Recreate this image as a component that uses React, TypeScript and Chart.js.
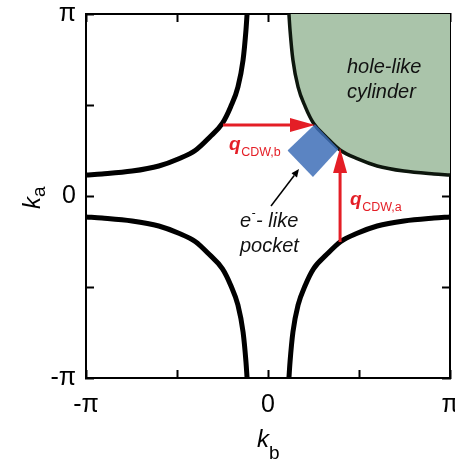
import React, { useEffect, useRef } from 'react';
import { Chart, registerables } from 'chart.js';

Chart.register(...registerables);

// Axis range in units of pi
const AXIS_MIN = -1;
const AXIS_MAX = 1;
const TICK_STEP = 0.5;
const TICK_VALUES = [-1, 0, 1];
const TICK_TEXT = ['-π', '0', 'π'];

// Fermi-surface contours (units of pi)
const trX = [0.115, 0.121, 0.137, 0.165, 0.205, 0.25, 0.322, 0.40, 0.49, 0.60, 0.747, 0.912, 1.0];
const trY = [1.0, 0.912, 0.747, 0.60, 0.49, 0.40, 0.322, 0.25, 0.205, 0.165, 0.137, 0.121, 0.115];
const tlX = [-1.0, -0.912, -0.747, -0.60, -0.49, -0.40, -0.322, -0.25, -0.205, -0.165, -0.137, -0.121, -0.115];
const tlY = [0.115, 0.121, 0.137, 0.165, 0.205, 0.25, 0.322, 0.40, 0.49, 0.60, 0.747, 0.912, 1.0];
const blX = [-1.0, -0.912, -0.747, -0.60, -0.49, -0.40, -0.322, -0.25, -0.205, -0.165, -0.137, -0.121, -0.115];
const blY = [-0.115, -0.121, -0.137, -0.165, -0.205, -0.25, -0.322, -0.40, -0.49, -0.60, -0.747, -0.912, -1.0];
const brX = [0.115, 0.121, 0.137, 0.165, 0.205, 0.25, 0.322, 0.40, 0.49, 0.60, 0.747, 0.912, 1.0];
const brY = [-1.0, -0.912, -0.747, -0.60, -0.49, -0.40, -0.322, -0.25, -0.205, -0.165, -0.137, -0.121, -0.115];

// electron-like pocket (diamond), upper and lower outline
const pocketUpperX = [0.107, 0.258, 0.388];
const pocketUpperY = [0.25, 0.394, 0.258];
const pocketLowerX = [0.107, 0.247, 0.388];
const pocketLowerY = [0.25, 0.104, 0.258];

// q_CDW,b arrow (horizontal)
const qbShaftX = [-0.247, 0.14];
const qbShaftY = [0.39, 0.39];
const qbHeadUpperX = [0.121, 0.258];
const qbHeadUpperY = [0.4285, 0.39];
const qbHeadLowerX = [0.121, 0.258];
const qbHeadLowerY = [0.3515, 0.39];

// q_CDW,a arrow (vertical)
const qaShaftX = [0.396, 0.396];
const qaShaftY = [-0.253, 0.14];
const qaHeadX = [0.3575, 0.396, 0.4345];
const qaHeadY = [0.126, 0.264, 0.126];
const qaHeadBase = 0.126;

// pointer arrow to the pocket
const ptrShaftX = [0.0165, 0.144];
const ptrShaftY = [-0.055, 0.113];
const ptrHeadUpperX = [0.1286, 0.1703];
const ptrHeadUpperY = [0.1246, 0.1484];
const ptrHeadLowerX = [0.1286, 0.1593, 0.1703];
const ptrHeadLowerY = [0.1246, 0.1022, 0.1484];

// annotation anchors (data units)
const holeText = ['hole-like', 'cylinder'];
const holeTextX = [0.434, 0.434];
const holeTextY = [0.676, 0.538];
const pocketText = ['like', 'pocket'];
const pocketTextX = [-0.154, -0.154];
const pocketTextY = [-0.17, -0.308];
const qbLabelX = -0.214;
const qbLabelY = 0.253;
const qaLabelX = 0.451;
const qaLabelY = -0.049;

const FONT = '"Liberation Sans", Arial, Helvetica, sans-serif';
const RED = '#e41e26';
const GREEN = '#aac4aa';
const BLUE = 'rgba(60,108,182,0.84)';

const pts = (xs: number[], ys: number[]) => xs.map((x, i) => ({ x, y: ys[i] }));

function App() {
  const ref = useRef<HTMLCanvasElement | null>(null);

  useEffect(() => {
    if (!ref.current) return;

    const line = (xs: number[], ys: number[], extra: any) => ({
      data: pts(xs, ys),
      showLine: true,
      pointRadius: 0,
      pointHoverRadius: 0,
      tension: 0,
      fill: false,
      clip: 0,
      ...extra,
    });
    const curve = { cubicInterpolationMode: 'monotone', tension: 0.4 };

    const datasets: any[] = [];
    datasets.push(line(trX, trY, { ...curve, borderColor: '#0d160d', borderWidth: 3.5, fill: 'end', backgroundColor: GREEN, order: 10 }));
    datasets.push(line(tlX, tlY, { ...curve, borderColor: '#000', borderWidth: 5, order: 9 }));
    datasets.push(line(blX, blY, { ...curve, borderColor: '#000', borderWidth: 5, order: 9 }));
    datasets.push(line(brX, brY, { ...curve, borderColor: '#000', borderWidth: 5, order: 9 }));
    const pu = datasets.length;
    datasets.push(line(pocketUpperX, pocketUpperY, { borderWidth: 0, borderColor: 'rgba(0,0,0,0)', order: 6 }));
    datasets.push(line(pocketLowerX, pocketLowerY, { borderWidth: 0, borderColor: 'rgba(0,0,0,0)', fill: pu, backgroundColor: BLUE, order: 5 }));
    datasets.push(line(ptrShaftX, ptrShaftY, { borderColor: '#000', borderWidth: 1.5, order: 3 }));
    const phu = datasets.length;
    datasets.push(line(ptrHeadUpperX, ptrHeadUpperY, { borderWidth: 0, borderColor: 'rgba(0,0,0,0)', order: 3 }));
    datasets.push(line(ptrHeadLowerX, ptrHeadLowerY, { borderWidth: 0, borderColor: 'rgba(0,0,0,0)', fill: phu, backgroundColor: '#000', order: 2 }));
    datasets.push(line(qbShaftX, qbShaftY, { borderColor: RED, borderWidth: 3, order: 1 }));
    const qhu = datasets.length;
    datasets.push(line(qbHeadUpperX, qbHeadUpperY, { borderWidth: 0, borderColor: 'rgba(0,0,0,0)', order: 1 }));
    datasets.push(line(qbHeadLowerX, qbHeadLowerY, { borderWidth: 0, borderColor: 'rgba(0,0,0,0)', fill: qhu, backgroundColor: RED, order: 0 }));
    datasets.push(line(qaShaftX, qaShaftY, { borderColor: RED, borderWidth: 3, order: 1 }));
    datasets.push(line(qaHeadX, qaHeadY, { borderWidth: 0, borderColor: 'rgba(0,0,0,0)', fill: { value: qaHeadBase }, backgroundColor: RED, order: 0 }));

    const textPlugin = {
      id: 'annotText',
      afterDatasetsDraw(chart: any) {
        const { ctx, scales } = chart;
        const sx = scales.x;
        const sy = scales.y;
        ctx.save();
        ctx.textBaseline = 'alphabetic';
        ctx.textAlign = 'left';
        // hole-like cylinder
        ctx.fillStyle = '#111';
        ctx.font = `italic 20px ${FONT}`;
        holeText.forEach((t, i) => ctx.fillText(t, sx.getPixelForValue(holeTextX[i]), sy.getPixelForValue(holeTextY[i])));
        // e- like pocket
        const ex = sx.getPixelForValue(pocketTextX[0]);
        const ey = sy.getPixelForValue(pocketTextY[0]);
        ctx.fillText('e', ex, ey);
        const ew = ctx.measureText('e').width;
        ctx.font = `italic 12px ${FONT}`;
        ctx.fillText('-', ex + ew + 0.5, ey - 10);
        const mw = ctx.measureText('-').width;
        ctx.font = `italic 20px ${FONT}`;
        ctx.fillText('- ' + pocketText[0], ex + ew + mw + 1, ey);
        ctx.fillText(pocketText[1], sx.getPixelForValue(pocketTextX[1]), sy.getPixelForValue(pocketTextY[1]));
        // q labels
        const qLabel = (x: number, y: number, sub: string) => {
          const px = sx.getPixelForValue(x);
          const py = sy.getPixelForValue(y);
          ctx.fillStyle = RED;
          ctx.font = `italic bold 19px ${FONT}`;
          ctx.fillText('q', px, py);
          const qw = ctx.measureText('q').width;
          ctx.font = `12.5px ${FONT}`;
          ctx.fillText(sub, px + qw + 0.5, py + 6);
        };
        qLabel(qbLabelX, qbLabelY, 'CDW,b');
        qLabel(qaLabelX, qaLabelY, 'CDW,a');
        // axis titles
        ctx.fillStyle = '#000';
        const area = chart.chartArea;
        const kx = sx.getPixelForValue(0) - 11;
        const ky = area.bottom + 69;
        ctx.font = `italic 24px ${FONT}`;
        ctx.fillText('k', kx, ky);
        const kw = ctx.measureText('k').width;
        ctx.font = `19px ${FONT}`;
        ctx.fillText('b', kx + kw, ky + 12);
        // k_a rotated
        ctx.save();
        ctx.translate(area.left - 46, sy.getPixelForValue(0) + 13);
        ctx.rotate(-Math.PI / 2);
        ctx.font = `italic 24px ${FONT}`;
        ctx.fillText('k', 0, 0);
        const kw2 = ctx.measureText('k').width;
        ctx.font = `19px ${FONT}`;
        ctx.fillText('a', kw2, 5);
        ctx.restore();
        ctx.restore();
      },
    };

    const tickCb = (v: any) => {
      const i = TICK_VALUES.indexOf(Number(v));
      return i >= 0 ? TICK_TEXT[i] : '';
    };

    const gridCommon = {
      drawOnChartArea: false,
      drawTicks: true,
      tickLength: -8,
      tickWidth: 2,
      tickColor: '#000',
    };
    const borderCommon = { display: true, color: '#000', width: 2 };
    const fit = (size: number, horizontal: boolean) => (scale: any) => {
      if (horizontal) scale.height = size;
      else scale.width = size;
      scale.paddingLeft = 0;
      scale.paddingRight = 0;
      scale.paddingTop = 0;
      scale.paddingBottom = 0;
    };

    const chart = new Chart(ref.current, {
      type: 'scatter',
      data: { datasets },
      options: {
        animation: false,
        responsive: false,
        maintainAspectRatio: false,
        events: [],
        layout: { padding: 0 },
        plugins: { legend: { display: false }, tooltip: { enabled: false } },
        scales: {
          x: {
            type: 'linear', position: 'bottom', min: AXIS_MIN, max: AXIS_MAX,
            ticks: { stepSize: TICK_STEP, autoSkip: false, maxRotation: 0, padding: 20, color: '#000', font: { family: FONT, size: 25 }, callback: tickCb },
            grid: gridCommon, border: borderCommon,
            afterFit: fit(88, true),
          },
          x2: {
            type: 'linear', position: 'top', min: AXIS_MIN, max: AXIS_MAX,
            ticks: { stepSize: TICK_STEP, display: false },
            grid: gridCommon, border: borderCommon,
            afterFit: fit(14, true),
          },
          y: {
            type: 'linear', position: 'left', min: AXIS_MIN, max: AXIS_MAX,
            ticks: { stepSize: TICK_STEP, autoSkip: false, padding: 18, color: '#000', font: { family: FONT, size: 25 }, callback: tickCb },
            grid: gridCommon, border: borderCommon,
            afterFit: fit(86, false),
          },
          y2: {
            type: 'linear', position: 'right', min: AXIS_MIN, max: AXIS_MAX,
            ticks: { stepSize: TICK_STEP, display: false },
            grid: gridCommon, border: borderCommon,
            afterFit: fit(5, false),
          },
        },
      } as any,
      plugins: [textPlugin],
    });
    return () => chart.destroy();
  }, []);

  return (
    <div style={{ position: 'absolute', left: 0, top: 0, width: 455, height: 466, background: '#fff' }}>
      <canvas ref={ref} width={455} height={466} style={{ display: 'block' }} />
    </div>
  );
}

export default App;
